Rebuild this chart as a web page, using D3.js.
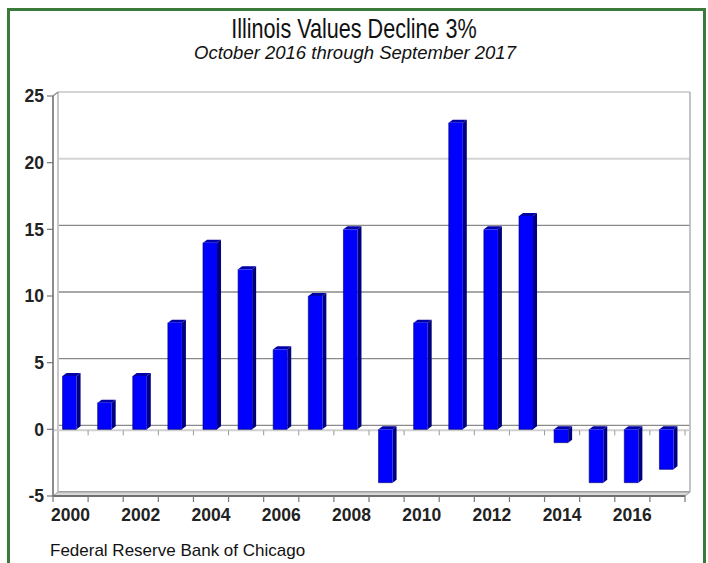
<!DOCTYPE html>
<html>
<head>
<meta charset="utf-8">
<script src="https://cdn.jsdelivr.net/npm/d3@7"></script>
<style>
  html, body { margin: 0; padding: 0; background: #fff; }
  svg { display: block; }
</style>
</head>
<body>
<svg id="chart" width="708" height="563"></svg>
<script>
// ---- data ----
const years = [2000, 2001, 2002, 2003, 2004, 2005, 2006, 2007, 2008, 2009,
               2010, 2011, 2012, 2013, 2014, 2015, 2016, 2017];
const values = [4, 2, 4, 8, 14, 12, 6, 10, 15, -4, 8, 23, 15, 16, -1, -4, -4, -3];
const yTicks = [-5, 0, 5, 10, 15, 20, 25];
const xTickLabels = [2000, 2002, 2004, 2006, 2008, 2010, 2012, 2014, 2016];
const titleText = "Illinois Values Decline 3%";
const subtitleText = "October 2016 through September 2017";
const sourceText = "Federal Reserve Bank of Chicago";

(function () {
// ---- layout ----
const svg = d3.select("#chart");
const pLeft = 53, pRight = 685, pTop = 96, pBottom = 496;
const dx = 5, dy = -4; // 3D wall depth
const bdx = 4, bdy = -3; // bar depth
const FONT = "Liberation Sans, Arial, sans-serif";

const x = d3.scaleBand().domain(years).range([pLeft, pRight]).paddingInner(0.6).paddingOuter(0.3);
const y = d3.scaleLinear().domain([-5, 25]).range([pBottom, pTop]);

// border
svg.append("rect")
  .attr("x", 8.5).attr("y", 9.5).attr("width", 696).attr("height", 600)
  .attr("fill", "none").attr("stroke", "#3b7a3b").attr("stroke-width", 3);

// titles
svg.append("text").attr("transform", "translate(354,38) scale(0.8,1)").attr("text-anchor", "middle")
  .attr("font-family", FONT).attr("font-size", 27)
  .attr("fill", "#111").text(titleText);
svg.append("text").attr("x", 355).attr("y", 59).attr("text-anchor", "middle")
  .attr("font-family", FONT).attr("font-size", 18.5)
  .attr("font-style", "italic").attr("fill", "#111").text(subtitleText);
svg.append("text").attr("x", 50).attr("y", 556)
  .attr("font-family", FONT).attr("font-size", 17)
  .attr("fill", "#111").text(sourceText);

// back wall gridlines
const g = svg.append("g");
yTicks.forEach(t => {
  const yy = y(t) + dy;
  g.append("line")
    .attr("x1", pLeft + dx).attr("x2", pRight + dx)
    .attr("y1", yy).attr("y2", yy)
    .attr("stroke", t >= 20 ? "#d4d4d4" : "#8a8a8a")
    .attr("stroke-width", t >= 20 ? 2 : 1.3);
});
g.append("line").attr("x1", pLeft + dx).attr("x2", pLeft + dx)
  .attr("y1", y(25) + dy).attr("y2", y(-5) + dy).attr("stroke", "#c8c8c8").attr("stroke-width", 2);
g.append("line").attr("x1", pRight + dx).attr("x2", pRight + dx)
  .attr("y1", y(25) + dy).attr("y2", y(-5) + dy).attr("stroke", "#b0b0b0").attr("stroke-width", 1.5);
g.append("path")
  .attr("d", `M${pLeft},${pBottom} L${pRight},${pBottom} L${pRight + dx},${pBottom + dy} L${pLeft + dx},${pBottom + dy} Z`)
  .attr("fill", "#d8d8d8").attr("stroke", "#9a9a9a").attr("stroke-width", 1);
g.append("line").attr("x1", pLeft).attr("x2", pRight + dx)
  .attr("y1", y(0) + 1).attr("y2", y(0) + 1).attr("stroke", "#d0d0d0").attr("stroke-width", 2);

// bars
const bars = svg.append("g");
years.forEach((yr, i) => {
  const v = values[i];
  const bw = x.bandwidth();
  const x0 = x(yr) - 1;
  const yTop = y(Math.max(v, 0));
  const yBot = y(Math.min(v, 0));
  bars.append("path")
    .attr("d", `M${x0 + bw},${yTop} L${x0 + bw + bdx},${yTop + bdy} L${x0 + bw + bdx},${yBot + bdy} L${x0 + bw},${yBot} Z`)
    .attr("fill", "#000080");
  bars.append("path")
    .attr("d", `M${x0},${yTop} L${x0 + bw},${yTop} L${x0 + bw + bdx},${yTop + bdy} L${x0 + bdx},${yTop + bdy} Z`)
    .attr("fill", "#0000a8");
  bars.append("rect")
    .attr("x", x0).attr("y", yTop).attr("width", bw).attr("height", Math.max(1, yBot - yTop))
    .attr("fill", "#0000ff");
  bars.append("path")
    .attr("d", `M${x0},${yTop} L${x0},${yBot} L${x0 + bw},${yBot}`)
    .attr("fill", "none").attr("stroke", "#000060").attr("stroke-width", 0.6);
});

// front y axis
const axisG = svg.append("g");
axisG.append("line").attr("x1", pLeft).attr("x2", pLeft).attr("y1", y(25)).attr("y2", pBottom)
  .attr("stroke", "#8c8c8c").attr("stroke-width", 2);
axisG.append("line").attr("x1", pLeft).attr("x2", pLeft + dx).attr("y1", y(25)).attr("y2", y(25) + dy)
  .attr("stroke", "#8c8c8c").attr("stroke-width", 1.5);
yTicks.forEach(t => {
  axisG.append("line").attr("x1", pLeft - 6).attr("x2", pLeft).attr("y1", y(t)).attr("y2", y(t))
    .attr("stroke", "#777").attr("stroke-width", 1.2);
  axisG.append("text").attr("x", 44).attr("y", y(t)).attr("dy", "0.36em")
    .attr("text-anchor", "end").attr("font-family", FONT)
    .attr("font-size", 17.5).attr("font-weight", "bold").attr("fill", "#222").text(t);
});

// front x axis
axisG.append("line").attr("x1", pLeft).attr("x2", pRight).attr("y1", pBottom).attr("y2", pBottom)
  .attr("stroke", "#707070").attr("stroke-width", 2);
const step = x.step();
const tickXs = d3.range(years.length + 1).map(k => pLeft + k * step);
tickXs.forEach(tx => {
  axisG.append("line").attr("x1", tx).attr("x2", tx).attr("y1", pBottom).attr("y2", pBottom + 6)
    .attr("stroke", "#777").attr("stroke-width", 1.2);
  axisG.append("line").attr("x1", tx).attr("x2", tx).attr("y1", y(0) + 1).attr("y2", y(0) + 6)
    .attr("stroke", "#999").attr("stroke-width", 1);
});
xTickLabels.forEach(yr => {
  axisG.append("text").attr("x", x(yr) + x.bandwidth() / 2).attr("y", pBottom + 25)
    .attr("text-anchor", "middle").attr("font-family", FONT)
    .attr("font-size", 17.5).attr("font-weight", "bold").attr("fill", "#222").text(yr);
});
})();
</script>
</body>
</html>
